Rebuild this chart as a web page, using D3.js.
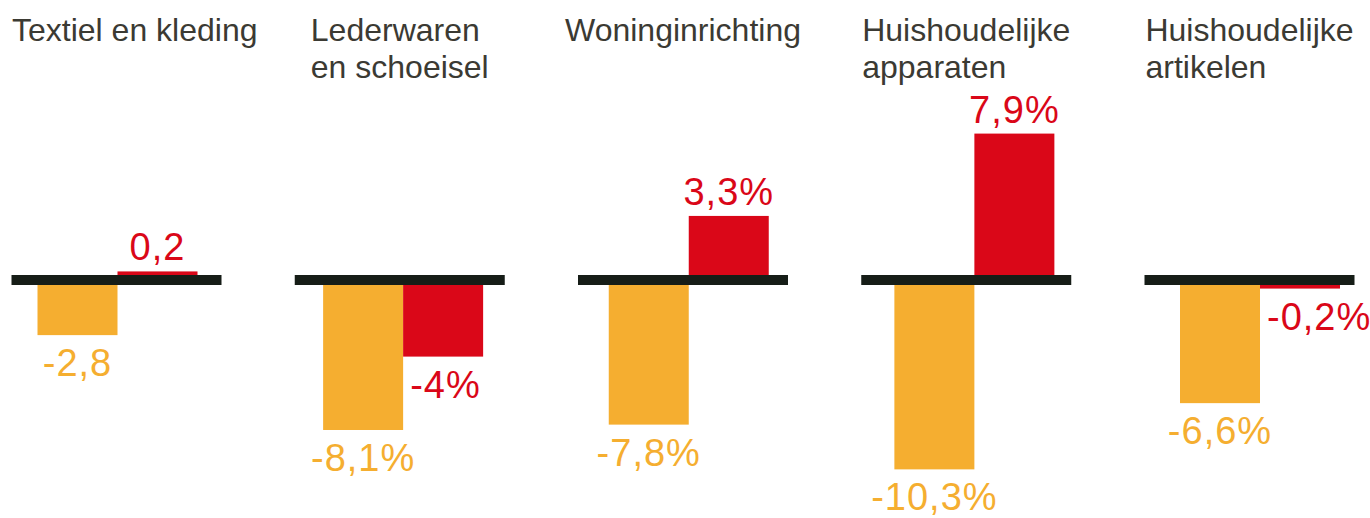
<!DOCTYPE html>
<html>
<head>
<meta charset="utf-8">
<script src="https://cdn.jsdelivr.net/npm/d3@7"></script>
<style>
  body { margin: 0; background: #fff; }
  svg { display: block; font-family: "Liberation Sans", Arial, Helvetica, sans-serif; }
</style>
</head>
<body>
<svg width="1370" height="518"></svg>
<script>
// categories (title lines) and the two series
var categories = [
	["Textiel en kleding"],
	["Lederwaren", "en schoeisel"],
	["Woninginrichting"],
	["Huishoudelijke", "apparaten"],
	["Huishoudelijke", "artikelen"]
];
var orangeValues = [-2.8, -8.1, -7.8, -10.3, -6.6];
var redValues = [0.2, -4, 3.3, 7.9, -0.2];
var orangeLabels = ["-2,8", "-8,1%", "-7,8%", "-10,3%", "-6,6%"];
var redLabels = ["0,2", "-4%", "3,3%", "7,9%", "-0,2%"];

var svg = d3.select("svg"),
	orange = "#f5ae30",
	red = "#da0718",
	dark = "#161d17";

var axisTop = 275, axisH = 10, pxPerUnit = 17.9;

// panel baseline positions and bar group positions
var xPanel = d3.scaleLinear().domain([0, 4]).range([11.5, 1144.5]),
	xGroup = d3.scaleLinear().domain([0, 4]).range([37.5, 1180]),
	xBar = d3.scaleBand().domain(["o", "r"]).range([0, 160]),
	panelW = 210;

var yPos = d3.scaleLinear().domain([0, 1]).range([axisTop, axisTop - pxPerUnit]),
	yNeg = d3.scaleLinear().domain([0, -1]).range([axisTop + axisH, axisTop + axisH + pxPerUnit]);

function barY(v) { return v >= 0 ? yPos(v) : yNeg(0); }
function barH(v) { return v >= 0 ? yPos(0) - yPos(v) : yNeg(v) - yNeg(0); }

var panels = svg.selectAll(".panel")
	.data(categories.map(function(c, i) {
		return { title: c, i: i, o: orangeValues[i], r: redValues[i], ol: orangeLabels[i], rl: redLabels[i] };
	}))
	.enter().append("g")
	.attr("class", "panel");

panels.each(function(d) {
	var g = d3.select(this),
		gx = xGroup(d.i);

	// bars and value labels
	[["o", d.o, orange, d.ol], ["r", d.r, red, d.rl]].forEach(function(s) {
		var x = gx + xBar(s[0]), w = xBar.bandwidth(), v = s[1];
		g.append("rect")
			.attr("x", x)
			.attr("y", barY(v))
			.attr("width", w)
			.attr("height", barH(v))
			.attr("fill", s[2]);

		var t = g.append("text")
			.attr("fill", s[2])
			.attr("font-size", 38)
			.attr("letter-spacing", 1)
			.text(s[3]);
		if (v >= 0) {
			t.attr("x", x + w / 2).attr("y", yPos(v) - 11).attr("text-anchor", "middle");
		} else if (s[0] === "r") {
			t.attr("x", x + 7).attr("y", yNeg(v) + 41).attr("text-anchor", "start");
		} else {
			t.attr("x", x + w / 2).attr("y", yNeg(v) + 41).attr("text-anchor", "middle");
		}
	});

	// baseline
	g.append("rect")
		.attr("x", xPanel(d.i))
		.attr("y", axisTop)
		.attr("width", panelW)
		.attr("height", axisH)
		.attr("fill", dark);

	// title, block centred on the baseline, kept inside the page
	var title = g.append("text")
		.attr("fill", "#3b3a33")
		.attr("font-size", 32);
	d.title.forEach(function(line, k) {
		title.append("tspan").attr("y", 41 + k * 37).text(line);
	});
	var maxW = 0;
	title.selectAll("tspan").each(function() { maxW = Math.max(maxW, this.getComputedTextLength()); });
	var tx = Math.max(12, xPanel(d.i) + panelW / 2 - maxW / 2);
	title.selectAll("tspan").attr("x", tx);
});
</script>
</body>
</html>
